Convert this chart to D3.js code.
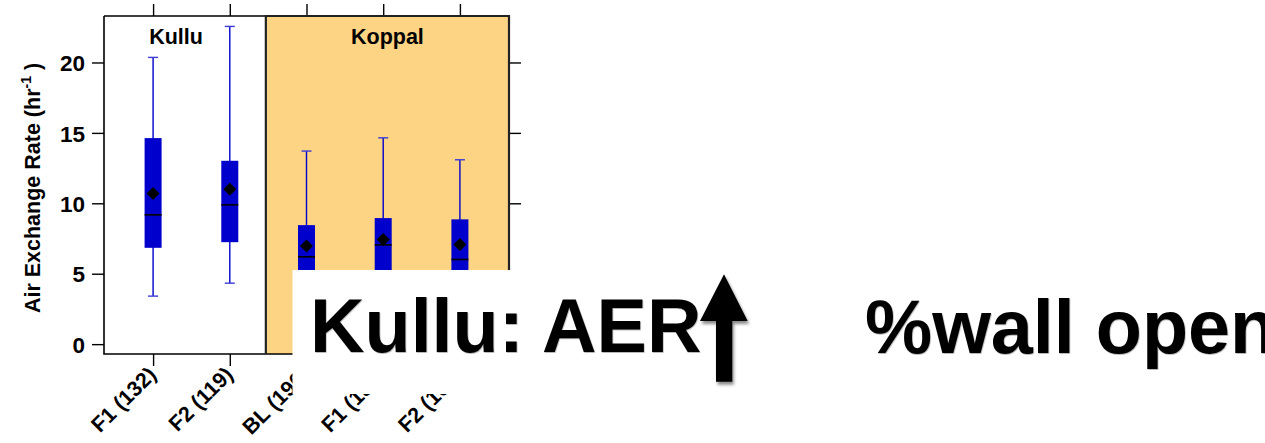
<!DOCTYPE html>
<html>
<head>
<meta charset="utf-8">
<script src="https://cdn.jsdelivr.net/npm/d3@7"></script>
<style>
  html, body { margin: 0; padding: 0; background: #fff; }
  svg { display: block; font-family: "Liberation Sans", Arial, Helvetica, sans-serif; }
</style>
</head>
<body>
<svg id="chart" width="1265" height="443"></svg>
<script>
// Air exchange rate distributions by campaign, Kullu vs Koppal
const categories = ["F1 (132)", "F2 (119)", "BL (196)", "F1 (139)", "F2 (108)"];
const sites = ["Kullu", "Kullu", "Koppal", "Koppal", "Koppal"];
const whiskerHigh = [20.36, 22.56, 13.71, 14.65, 13.09];
const q3 = [14.63, 13.02, 8.45, 8.95, 8.86];
const means = [10.70, 11.00, 6.96, 7.43, 7.08];
const medians = [9.18, 9.89, 6.20, 7.05, 6.01];
const q1 = [6.84, 7.24, 4.30, 4.60, 4.40];
const whiskerLow = [3.41, 4.33, 1.40, 1.60, 1.50];
const yTicks = [0, 5, 10, 15, 20];
const yDomain = [-0.7, 23.3];

const svg = d3.select("#chart");
const frame = { left: 104, right: 509, top: 16, bottom: 354 };

const x = d3.scalePoint().domain(categories).range([frame.left, frame.right]).padding(0.64);
const y = d3.scaleLinear().domain(yDomain).range([frame.bottom, frame.top]);
const step = x.step();

const boxColor = "#0000CC";
const family = "'Liberation Sans', Arial, sans-serif";

// Koppal shaded panel
const koppalX0 = x(categories[2]) - 0.53 * step;
svg.append("rect")
  .attr("x", koppalX0).attr("y", frame.top)
  .attr("width", frame.right - koppalX0).attr("height", frame.bottom - frame.top)
  .attr("fill", "#FDD484");

// Axes (ticks only, frame drawn separately)
const fontTick = `bold 22.5px ${family}`;

const gLeft = svg.append("g").attr("transform", `translate(${frame.left},0)`)
  .call(d3.axisLeft(y).tickValues(yTicks).tickSize(12).tickPadding(7));
const gRight = svg.append("g").attr("transform", `translate(${frame.right},0)`)
  .call(d3.axisRight(y).tickValues(yTicks).tickSize(12).tickFormat(""));
const gTop = svg.append("g").attr("transform", `translate(0,${frame.top})`)
  .call(d3.axisTop(x).tickSize(12).tickFormat(""));
const gBottom = svg.append("g").attr("transform", `translate(0,${frame.bottom})`)
  .call(d3.axisBottom(x).tickSize(12).tickPadding(0));

[gLeft, gRight, gTop, gBottom].forEach(g => {
  g.select(".domain").remove();
  g.selectAll(".tick line").attr("stroke", "#000").attr("stroke-width", 1.4);
});
gLeft.selectAll(".tick text").style("font", fontTick).attr("fill", "#000").attr("dy", "0.36em");

gBottom.selectAll(".tick text")
  .style("font", `bold 21.5px ${family}`).attr("fill", "#000")
  .attr("text-anchor", "end")
  .attr("dy", null).attr("y", null)
  .attr("dominant-baseline", "central")
  .attr("transform", "translate(-1,17) rotate(-45)");

// Frame lines
svg.append("path")
  .attr("d", `M${frame.left},${frame.top}H${koppalX0}M${frame.left},${frame.top}V${frame.bottom}H${frame.right}`)
  .attr("fill", "none").attr("stroke", "#000").attr("stroke-width", 1.6);
svg.append("path")
  .attr("d", `M${koppalX0},${frame.bottom}V${frame.top}H${frame.right}V${frame.bottom}`)
  .attr("fill", "none").attr("stroke", "#222").attr("stroke-width", 2.2);

// Site labels
svg.append("text").attr("x", 176).attr("y", 44)
  .attr("text-anchor", "middle").style("font", `bold 21.5px ${family}`)
  .text("Kullu");
svg.append("text").attr("x", (koppalX0 + frame.right) / 2).attr("y", 44)
  .attr("text-anchor", "middle").style("font", `bold 21.5px ${family}`)
  .text("Koppal");

// Y-axis title
const yt = svg.append("text")
  .attr("transform", "translate(40,188) rotate(-90)")
  .attr("text-anchor", "middle")
  .style("font", `bold 21.5px ${family}`);
yt.append("tspan").text("Air Exchange Rate (hr");
yt.append("tspan").attr("dy", -9).style("font-size", "14px").text("-1");
yt.append("tspan").attr("dy", 9).text(" )");

// Box plots
const boxW = 17, capW = 10, dia = 6.5;
const rows = categories.map((c, i) => ({
  c, lo: whiskerLow[i], q1: q1[i], med: medians[i], q3: q3[i], hi: whiskerHigh[i], mean: means[i]
}));
const gBox = svg.append("g");
const b = gBox.selectAll("g").data(rows).join("g")
  .attr("transform", d => `translate(${x(d.c)},0)`);
b.append("line").attr("y1", d => y(d.lo)).attr("y2", d => y(d.hi))
  .attr("stroke", boxColor).attr("stroke-width", 1.4);
b.append("line").attr("x1", -capW / 2).attr("x2", capW / 2)
  .attr("y1", d => y(d.hi)).attr("y2", d => y(d.hi))
  .attr("stroke", "#3b3bd6").attr("stroke-width", 1.4);
b.append("line").attr("x1", -capW / 2).attr("x2", capW / 2)
  .attr("y1", d => y(d.lo)).attr("y2", d => y(d.lo))
  .attr("stroke", "#3b3bd6").attr("stroke-width", 1.4);
b.append("rect").attr("x", -boxW / 2).attr("width", boxW)
  .attr("y", d => y(d.q3)).attr("height", d => y(d.q1) - y(d.q3))
  .attr("fill", boxColor);
b.append("line").attr("x1", -boxW / 2).attr("x2", boxW / 2)
  .attr("y1", d => y(d.med)).attr("y2", d => y(d.med))
  .attr("stroke", "#000").attr("stroke-width", 1.6);
b.append("path")
  .attr("d", d => { const m = y(d.mean); return `M0,${m - dia}L${dia},${m}L0,${m + dia}L${-dia},${m}Z`; })
  .attr("fill", "#000");

// Slide annotation
const defs = svg.append("defs");
const sh = defs.append("filter").attr("id", "shadow").attr("x", "-30%").attr("y", "-30%").attr("width", "160%").attr("height", "160%");
sh.append("feDropShadow").attr("dx", 1.5).attr("dy", 3).attr("stdDeviation", 1.8)
  .attr("flood-color", "#000").attr("flood-opacity", 0.45);
const tsh = defs.append("filter").attr("id", "tshadow").attr("x", "-5%").attr("y", "-10%").attr("width", "110%").attr("height", "120%");
tsh.append("feDropShadow").attr("dx", 0.6).attr("dy", 0.8).attr("stdDeviation", 0.6)
  .attr("flood-color", "#000").attr("flood-opacity", 0.35);

svg.append("rect").attr("x", 292.5).attr("y", 270).attr("width", 1265 - 292.5).attr("height", 124)
  .attr("fill", "#fff");

const bigFont = `bold 75.5px ${family}`;
svg.append("text").attr("x", 310).attr("y", 352).style("font", bigFont)
  .attr("filter", "url(#tshadow)").text("Kullu: AER");
svg.append("text").attr("x", 865).attr("y", 353).style("font", bigFont)
  .attr("filter", "url(#tshadow)").text("%wall open");

svg.append("path")
  .attr("d", "M716,381.7V321H700L724,274.3L747.7,321H732.3V381.7Z")
  .attr("fill", "#000").attr("filter", "url(#shadow)");
</script>
</body>
</html>
